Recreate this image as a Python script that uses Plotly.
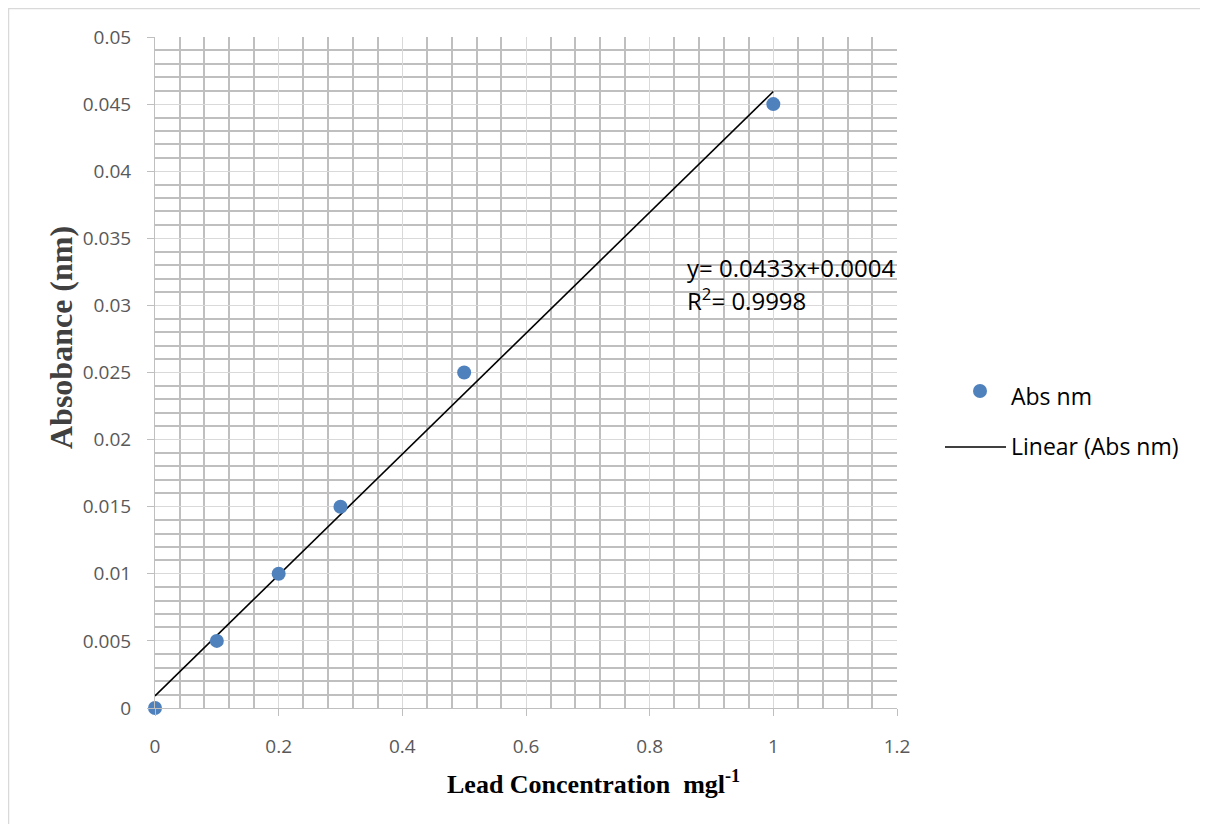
import numpy as np
import plotly.graph_objects as go

conc = [0, 0.1, 0.2, 0.3, 0.5, 1.0]
absorb = [0, 0.005, 0.010, 0.015, 0.025, 0.045]
series_name = "Abs nm"
trend_name = "Linear (Abs nm)"
eq_text = "y= 0.0433x+0.0004"
r2_text = "R<sup>2</sup>= 0.9998"

slope, intercept = np.polyfit(conc, absorb, 1)
tx = [min(conc), max(conc)]
ty = [slope * v + intercept for v in tx]

OFF = 8  # page body margin offset
W, H = 1208 - OFF, 824 - OFF
# plot area in reference (window) pixels
L, R, T, B = 155, 897, 37, 708
pw, ph = R - L, B - T

def px(x):
    return (x - L) / pw

def py(y):
    return (B - y) / ph

fig = go.Figure()
fig.add_trace(go.Scatter(x=tx, y=ty, mode="lines", line=dict(color="black", width=1.6),
                         name=trend_name, showlegend=False, hoverinfo="skip"))
fig.add_trace(go.Scatter(x=conc, y=absorb, mode="markers",
                         marker=dict(color="#4f81bd", size=14, line=dict(width=0)),
                         name=series_name, showlegend=False, cliponaxis=False))

tickfont = dict(family="Open Sans, sans-serif", size=19, color="#595959")
fig.update_xaxes(range=[0, 1.2], dtick=0.2, tick0=0, showgrid=True, gridcolor="#d9d9d9", gridwidth=1,
                 minor=dict(dtick=0.04, tick0=0, showgrid=True, gridcolor="#bfbfbf", gridwidth=1.5),
                 showline=True, linecolor="#bfbfbf", linewidth=1, ticks="outside", ticklen=7,
                 tickcolor="#bfbfbf", zeroline=False, tickfont=tickfont, ticklabelstandoff=14)
fig.update_yaxes(range=[0, 0.05], dtick=0.005, tick0=0, showgrid=True, gridcolor="#d9d9d9", gridwidth=1,
                 minor=dict(dtick=0.001, tick0=0, showgrid=True, gridcolor="#bfbfbf", gridwidth=1.5),
                 showline=True, linecolor="#bfbfbf", linewidth=1, ticks="outside", ticklen=7,
                 tickcolor="#bfbfbf", zeroline=False, tickfont=tickfont, ticklabelstandoff=12)

ann = []
ann.append(dict(text="<b>Lead Concentration  mgl<sup>-1</sup></b>", x=px(593), y=py(782), xref="paper", yref="paper",
                showarrow=False, font=dict(family="Liberation Serif, serif", size=26, color="black"),
                xanchor="center", yanchor="middle"))
ann.append(dict(text="<b>Absobance (nm)</b>", x=px(61), y=py(338), xref="paper", yref="paper",
                showarrow=False, textangle=-90, font=dict(family="Liberation Serif, serif", size=32, color="#404040"),
                xanchor="center", yanchor="middle"))
eqfont = dict(family="Open Sans, sans-serif", size=24, color="black")
ann.append(dict(text=eq_text, x=px(685), y=py(267), xref="paper", yref="paper", showarrow=False,
                font=eqfont, xanchor="left", yanchor="middle"))
ann.append(dict(text=r2_text, x=px(685), y=py(299), xref="paper", yref="paper", showarrow=False,
                font=eqfont, xanchor="left", yanchor="middle"))
legfont = dict(family="Open Sans, sans-serif", size=23, color="black")
ann.append(dict(text=series_name, x=px(1009), y=py(396), xref="paper", yref="paper", showarrow=False,
                font=legfont, xanchor="left", yanchor="middle"))
ann.append(dict(text=trend_name, x=px(1009), y=py(446), xref="paper", yref="paper", showarrow=False,
                font=legfont, xanchor="left", yanchor="middle"))

shapes = [
    dict(type="rect", xref="paper", yref="paper", x0=px(OFF + 0.5), x1=px(1207), y0=py(840), y1=py(OFF + 0.5),
         line=dict(color="#d9d9d9", width=1.5), fillcolor="rgba(0,0,0,0)", layer="below"),
    dict(type="line", xref="paper", yref="paper", x0=px(945), x1=px(1006), y0=py(447), y1=py(447),
         line=dict(color="black", width=1.6)),
    dict(type="circle", xref="paper", yref="paper", x0=px(973), x1=px(987), y0=py(398), y1=py(384),
         line=dict(width=0), fillcolor="#4f81bd"),
]

fig.update_layout(width=W, height=H,
                  margin=dict(l=L - OFF, r=(W + OFF) - R, t=T - OFF, b=(H + OFF) - B),
                  plot_bgcolor="white", paper_bgcolor="white", showlegend=False,
                  annotations=ann, shapes=shapes)
fig.write_html("out.html")
